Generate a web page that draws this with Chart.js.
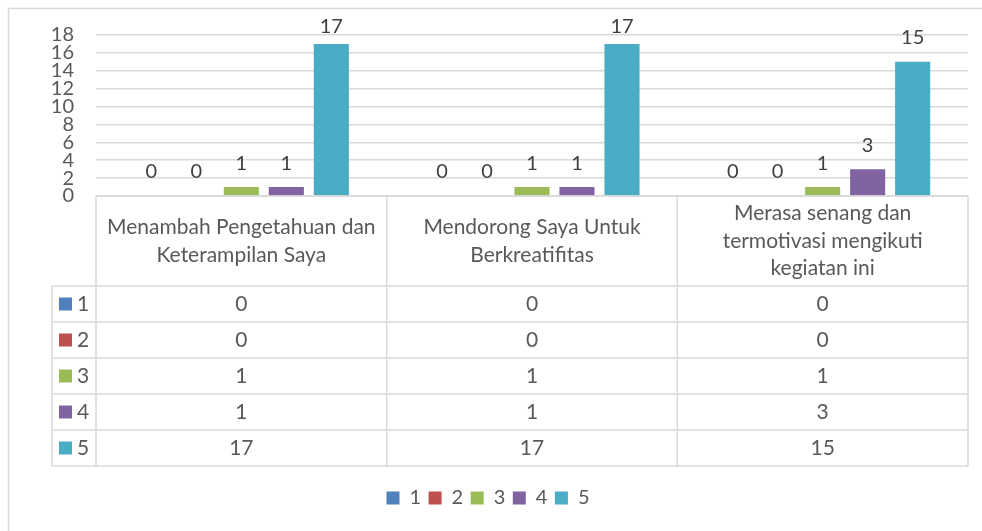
<!DOCTYPE html>
<html>
<head>
<meta charset="utf-8">
<script src="https://cdn.jsdelivr.net/npm/chart.js@4.4.0/dist/chart.umd.min.js"></script>
<style>
  html, body { margin: 0; padding: 0; background: #fff; }
  #wrap { width: 982px; height: 531px; }
</style>
</head>
<body>
<div id="wrap"><canvas id="chart" width="982" height="531"></canvas></div>
<script>
// categories (one line per entry, as wrapped in the table header)
const categories = [
  ['Menambah Pengetahuan dan', 'Keterampilan Saya'],
  ['Mendorong Saya Untuk', 'Berkreatifitas'],
  ['Merasa senang dan', 'termotivasi mengikuti', 'kegiatan ini']
];
const seriesNames = ['1', '2', '3', '4', '5'];
const score1 = [0, 0, 0];
const score2 = [0, 0, 0];
const score3 = [1, 1, 1];
const score4 = [1, 1, 3];
const score5 = [17, 17, 15];
const yTicks = [0, 2, 4, 6, 8, 10, 12, 14, 16, 18];

const colors = ['#4F81BD', '#C0504D', '#9BBB59', '#8064A2', '#4BACC6'];
const FONT = 'Lato, "Open Sans", sans-serif';
const FS = 20;
const TXT = '#595959';
const LINE = '#d9d9d9';

const allSeries = [score1, score2, score3, score4, score5];

// frame around the whole chart (only left/top visible in the shot)
const framePlugin = {
  id: 'frame',
  beforeDraw(chart) {
    const c = chart.ctx;
    c.save();
    c.strokeStyle = LINE;
    c.lineWidth = 1.5;
    c.beginPath();
    c.moveTo(8.5, chart.height);
    c.lineTo(8.5, 8.5);
    c.lineTo(chart.width, 8.5);
    c.stroke();
    c.restore();
  }
};

// value labels above each bar
const valueLabels = {
  id: 'valueLabels',
  afterDatasetsDraw(chart) {
    const c = chart.ctx;
    const top = chart.chartArea.top;
    c.save();
    c.font = FS + 'px ' + FONT;
    c.fillStyle = '#404040';
    c.textAlign = 'center';
    c.textBaseline = 'middle';
    chart.data.datasets.forEach((ds, i) => {
      chart.getDatasetMeta(i).data.forEach((bar, j) => {
        const y = Math.max(bar.y - 24, top - 8);
        c.fillText(ds.data[j], bar.x, y);
      });
    });
    c.restore();
  }
};

// data table under the plot, columns follow the x scale
const dataTable = {
  id: 'dataTable',
  afterDraw(chart) {
    const c = chart.ctx;
    const xs = chart.scales.x;
    const area = chart.chartArea;
    const n = categories.length;
    const colW = (area.right - area.left) / n;
    const top = area.bottom;
    const headH = 90;
    const rowH = 36;
    const keyLeft = 52;
    const bottom = top + headH + rowH * seriesNames.length;

    c.save();
    c.strokeStyle = LINE;
    c.lineWidth = 1.5;
    c.beginPath();
    c.moveTo(area.left, top); c.lineTo(area.right, top);
    for (let r = 0; r <= seriesNames.length; r++) {
      const y = top + headH + r * rowH;
      c.moveTo(keyLeft, y); c.lineTo(area.right, y);
    }
    for (let k = 0; k <= n; k++) {
      const x = area.left + k * colW;
      c.moveTo(x, top); c.lineTo(x, bottom);
    }
    c.moveTo(keyLeft, top + headH); c.lineTo(keyLeft, bottom);
    c.stroke();

    c.fillStyle = TXT;
    c.font = (FS + 1) + 'px ' + FONT;
    c.textAlign = 'center';
    c.textBaseline = 'middle';
    // header
    categories.forEach((lines, k) => {
      const cx = xs.getPixelForValue(k);
      const lh = 27.5;
      const y0 = top + headH / 2 - (lines.length - 1) * lh / 2;
      lines.forEach((t, li) => c.fillText(t, cx, y0 + li * lh));
    });
    // rows
    seriesNames.forEach((name, r) => {
      const cy = top + headH + r * rowH + rowH / 2;
      c.fillStyle = colors[r];
      c.fillRect(59, cy - 6.5, 13, 13);
      c.fillStyle = TXT;
      c.textAlign = 'left';
      c.fillText(name, 77, cy);
      c.textAlign = 'center';
      allSeries[r].forEach((v, k) => c.fillText(v, xs.getPixelForValue(k), cy));
    });
    c.restore();
  }
};

new Chart(document.getElementById('chart'), {
  type: 'bar',
  data: {
    labels: categories,
    datasets: seriesNames.map((name, i) => ({
      label: name,
      data: allSeries[i],
      backgroundColor: colors[i],
      barPercentage: 0.78,
      categoryPercentage: 0.774
    }))
  },
  options: {
    responsive: false,
    animation: false,
    devicePixelRatio: 1,
    layout: { padding: { top: 35, left: 8, right: 14, bottom: 13 } },
    plugins: {
      legend: {
        position: 'bottom',
        labels: {
          boxWidth: 13,
          boxHeight: 13,
          padding: 7.5,
          color: TXT,
          font: { family: FONT, size: FS }
        }
      },
      tooltip: { enabled: false }
    },
    scales: {
      x: {
        grid: { display: false },
        border: { display: false },
        ticks: { display: false },
        afterFit(s) { s.height = 284.5; }
      },
      y: {
        min: 0,
        max: 18,
        afterBuildTicks(s) { s.ticks = yTicks.map(v => ({ value: v })); },
        grid: { color: LINE, lineWidth: 1.5, drawTicks: false },
        border: { display: false },
        ticks: {
          autoSkip: false,
          padding: 22,
          color: TXT,
          font: { family: FONT, size: FS, lineHeight: 1 }
        },
        afterFit(s) { s.width = 88; }
      }
    }
  },
  plugins: [framePlugin, valueLabels, dataTable]
});
</script>
</body>
</html>
